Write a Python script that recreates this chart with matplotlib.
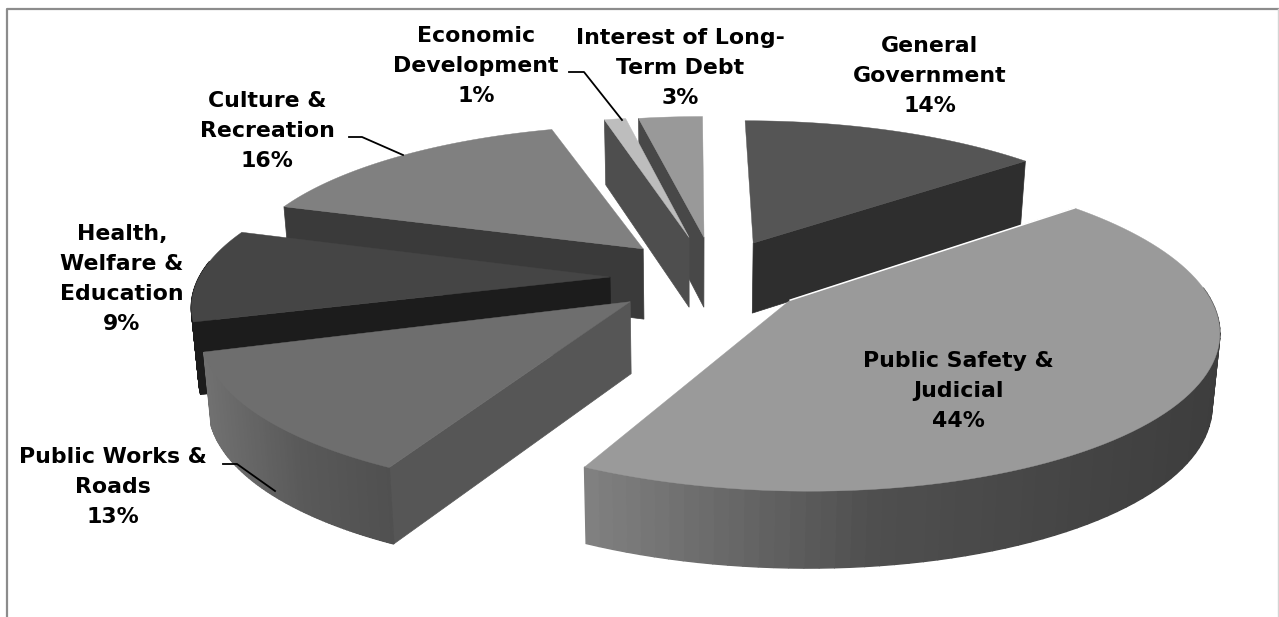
import numpy as np
import matplotlib
matplotlib.use("Agg")
import matplotlib.pyplot as plt

# -------------------------
# DATA
# -------------------------
categories = ["General\nGovernment", "Public Safety &\nJudicial", "Public Works &\nRoads",
              "Health,\nWelfare &\nEducation", "Culture &\nRecreation",
              "Economic\nDevelopment", "Interest of Long-\nTerm Debt"]
shares = [14, 44, 13, 9, 16, 1, 3]

# -------------------------
# LOOK OF THE 3D PIE
# -------------------------
cx, cy = 693, 270.7      # pie centre in pixels
rx, ry = 408, 150        # radii before perspective
persp = 0.16

# pull-out of each slice on the pie plane
shift_u = [0.152, 0.231, -0.149, -0.202, -0.125, -0.010, 0.028]
shift_v = [0.190, -0.190, -0.200, -0.042, 0.149, 0.230, 0.230]
# small corrections of the slice edges, degrees (the original view is skewed)
trim_start = [0, 0, -1, -2, 0, 0, 0]
trim_end = [0, -2, -3, 0, -2, 0, 0]

top_col = ["#555555", "#9a9a9a", "#6e6e6e", "#454545", "#808080", "#bdbdbd", "#999999"]
face_col = ["#2e2e2e", "#3c3c3c", "#565656", "#1c1c1c", "#3a3a3a", "#4e4e4e", "#484848"]
# which cut edge shows a flat face
faces = [[-1], [], [0], [0], [0], [0], [0]]
# wall shade against screen x
wall_x = {1: [585, 880, 1220], 2: [205, 300, 400]}
wall_shade = {1: [0.51, 0.31, 0.24], 2: [0.44, 0.35, 0.31]}

draw_order = [0, 6, 5, 4, 3, 2, 1]

label_x = [930, 958, 113, 122, 267, 476, 680]
label_y = [76, 391, 487, 279, 131, 66, 68]


def project(u, v):
    w = 1 + persp * v
    return cx + rx * u / w, cy - ry * v / w


def lower(x, y, v):
    # same point at the bottom of the pie
    depth = 71 - 5 * v
    return cx + (x - cx) * 0.985, y + depth


fig = plt.figure(figsize=(12.79, 6.17), dpi=100)
ax = fig.add_axes([0, 0, 1, 1])
ax.set_xlim(0, 1279)
ax.set_ylim(617, 0)
ax.axis("off")

# frame
ax.plot([7, 7, 1279], [617, 9, 9], color="#8c8c8c", lw=1.6)
ax.plot([1278, 1278], [9, 617], color="#d4d4d4", lw=1)

edges = np.cumsum([0] + shares) * 3.6

for i in draw_order:
    a0 = edges[i] + trim_start[i]
    a1 = edges[i + 1] + trim_end[i]
    ang = np.radians(np.linspace(a0, a1, 90))
    u = shift_u[i] + np.sin(ang)
    v = shift_v[i] + np.cos(ang)
    x, y = project(u, v)
    xb, yb = lower(x, y, v)
    ax0, ay0 = project(shift_u[i], shift_v[i])
    bx0, by0 = lower(ax0, ay0, shift_v[i])

    for k in faces[i]:
        ax.fill([ax0, x[k], xb[k], bx0], [ay0, y[k], yb[k], by0],
                color=face_col[i], lw=0.5)

    # outer wall, strip by strip so that it can carry a shade; rear part stays hidden
    for k in range(len(x) - 1):
        if np.cos(ang[k]) > 0.1:
            continue
        if i in wall_x:
            g = np.interp(x[k], wall_x[i], wall_shade[i])
            col = (g, g, g)
        else:
            col = face_col[i]
        ax.fill([x[k], x[k + 1], xb[k + 1], xb[k]], [y[k], y[k + 1], yb[k + 1], yb[k]],
                color=col, lw=1.0)

    ax.fill(np.r_[ax0, x], np.r_[ay0, y], color=top_col[i], lw=0.3)
    if i == 1:
        ax.plot([ax0, x[0]], [ay0, y[0]], color="white", lw=1.1)

# leader lines
ax.plot([569, 584, 622], [72, 72, 120], color="black", lw=1.3)
ax.plot([349, 362, 403], [137, 137, 155], color="black", lw=1.3)
ax.plot([223, 237, 275], [464, 464, 491], color="black", lw=1.3)

for name, share, lx, ly in zip(categories, shares, label_x, label_y):
    ax.text(lx, ly, f"{name}\n{share}%", ha="center", va="center", multialignment="center",
            fontfamily="DejaVu Sans", fontweight="bold", fontsize=15.8, linespacing=1.62,
            color="black")

fig.savefig("out.png", dpi=100)
